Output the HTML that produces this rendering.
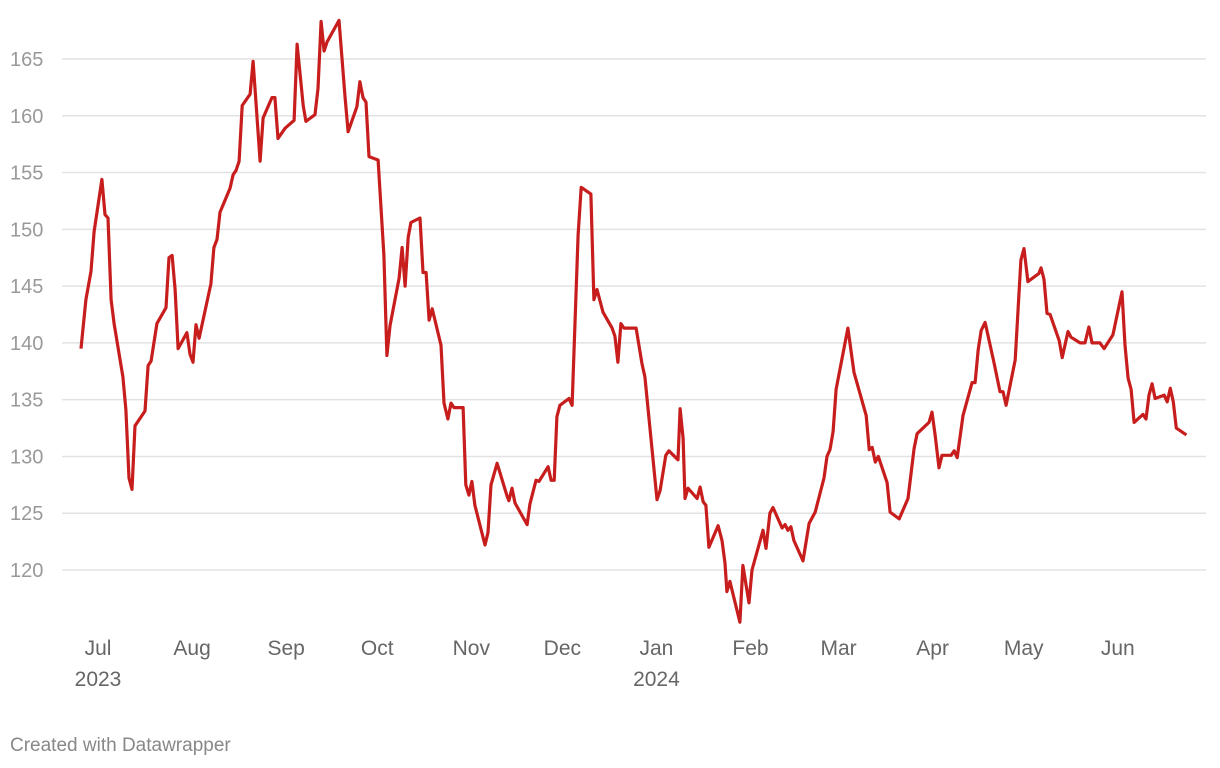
<!DOCTYPE html>
<html><head><meta charset="utf-8"><style>
body{margin:0;background:#fff;font-family:"Liberation Sans",Roboto,sans-serif}
svg{display:block}
</style></head><body>
<svg width="1220" height="768" id="chart">
<g id="grid"></g>
<g id="ylab"></g>
<g id="xlab"></g>
<path id="line" fill="none" stroke="#c71e1d" stroke-width="3.2" stroke-linejoin="round"/>
<text x="10" y="751" font-size="19" fill="#888">Created with Datawrapper</text>
</svg>
<script>
const days=[-5.6,-4,-2.3,-1.3,1.3,2.3,3.3,4.3,5.3,8.2,9.2,10.2,11.2,12.2,15.5,16.5,17.5,19.4,22.4,23.4,24.4,25.4,26.4,29.3,30.3,31.3,32.3,33.3,37.2,38.2,39.2,40.2,43.5,44.5,45.5,46.5,47.5,50.1,51.1,53.4,54.4,57.3,58.3,59.3,61.6,64.6,65.6,67.6,68.5,71.5,72.5,73.5,74.5,75.5,79.4,81.4,82.4,85.3,86.3,87.3,88.3,89.3,92.3,94.2,95.2,96.2,99.2,100.2,101.2,102.2,103.1,106.1,107.1,108.1,109.1,110.1,113,114,115.3,116.3,117.3,120.3,121.2,122.2,123.2,124.2,127.5,128.5,129.5,131.5,134.8,135.4,136.4,137.4,141.4,142.3,144.3,145.3,148.3,149.3,150.3,151.2,152.2,155.2,156.2,158.2,159.2,162.4,163.4,164.4,166.4,169.4,170.3,171.3,172.3,173.3,177.3,179.2,180.2,184.2,185.2,187.1,188.1,191.1,191.8,192.8,193.4,194.4,197.4,198.4,199.4,200.3,201.3,204.3,205.6,206.6,207.2,208.2,211.5,212.5,214.5,215.5,219.1,220.1,221.4,222.4,225.4,226.4,227.3,228.3,229.3,232.3,234.3,236.3,239.2,240.2,241.2,242.2,243.2,247.1,249.1,253.1,254.1,255.1,256.1,257.1,260,261,264,266.9,268.9,269.9,273.8,274.8,275.8,277.1,278.1,281.1,282.1,283.1,285,288,289,290,291,292.3,295.2,297.2,298.2,299.2,302.2,304.1,305.1,306.4,310,310.7,311.7,312.7,313.7,316.7,317.7,319.6,320.6,323.6,325.2,326.5,327.5,330.1,331.5,334.4,337.4,338.4,339.4,340.4,341.4,344.3,345.3,346.3,347.3,348.3,350.3,351.3,352.3,353.3,354.3,355.3,358.6];
const values=[139.5,143.8,146.3,149.8,154.4,151.3,151.0,143.8,141.7,137.0,134.1,128.1,127.1,132.7,134.0,138.0,138.4,141.7,143.1,147.5,147.7,144.7,139.5,140.9,139.0,138.3,141.6,140.4,145.2,148.4,149.1,151.5,153.6,154.8,155.2,156.0,160.9,161.9,164.8,156.0,159.8,161.6,161.6,158.0,158.9,159.6,166.3,160.9,159.5,160.1,162.4,168.3,165.7,166.5,168.4,161.7,158.6,160.8,163.0,161.6,161.2,156.4,156.1,147.7,138.9,141.5,145.7,148.4,145.0,149.3,150.6,151.0,146.2,146.2,142.0,143.0,139.8,134.7,133.3,134.7,134.3,134.3,127.5,126.6,127.8,125.7,122.2,123.3,127.5,129.4,126.5,126.1,127.2,125.9,124.0,125.8,127.9,127.8,129.1,127.9,127.9,133.5,134.5,135.1,134.5,149.5,153.7,153.1,143.8,144.7,142.7,141.3,140.6,138.3,141.7,141.3,141.3,138.2,137.0,126.2,127.0,130.1,130.5,129.7,134.2,131.6,126.3,127.2,126.3,127.3,126.0,125.7,122.0,123.9,122.6,120.6,118.1,119.0,115.4,120.4,117.1,120.0,123.5,121.9,125.0,125.5,123.7,124.0,123.5,123.8,122.6,120.8,124.1,125.1,128.1,130.0,130.6,132.2,135.9,141.3,137.4,133.6,130.6,130.8,129.5,130.0,127.7,125.1,124.5,126.3,130.7,132.0,133.0,133.9,131.9,129.0,130.1,130.1,130.5,129.9,133.6,136.5,136.5,139.4,141.1,141.8,138.3,135.7,135.7,134.5,138.5,147.3,148.3,145.4,146.1,146.6,145.6,142.6,142.5,140.2,138.7,141.0,140.5,140.0,140.0,141.4,140.0,140.0,139.5,140.7,144.5,139.8,136.9,135.9,133.0,133.7,133.3,135.4,136.4,135.1,135.3,135.4,134.8,136.0,134.8,132.5,131.9];
const yTicks=[120,125,130,135,140,145,150,155,160,165];
const monthLabels=["Jul","Aug","Sep","Oct","Nov","Dec","Jan","Feb","Mar","Apr","May","Jun"];
const monthDays=[0,31,62,92,123,153,184,215,244,275,305,336];
const yearLabels=["2023","","","","","","2024","","","","",""];
const X=d=>98+d*3.035;
const Y=v=>570-(v-120)*11.356;
const NS="http://www.w3.org/2000/svg";
const grid=document.getElementById('grid'),ylab=document.getElementById('ylab'),xlab=document.getElementById('xlab');
yTicks.forEach(t=>{
 const l=document.createElementNS(NS,'line');
 
 
 l.setAttribute('x1',62);l.setAttribute('x2',1206);l.setAttribute('y1',Y(t));l.setAttribute('y2',Y(t));
 l.setAttribute('stroke','#e2e2e2');l.setAttribute('stroke-width','1.5');grid.appendChild(l);
 const tx=document.createElementNS(NS,'text');
 
 
 tx.setAttribute('x',10);tx.setAttribute('y',Y(t)+7);tx.setAttribute('font-size','20');tx.setAttribute('fill','#999');
 tx.textContent=t;ylab.appendChild(tx);
});
monthLabels.forEach((m,i)=>{
 const tx=document.createElementNS(NS,'text');
 
 
 tx.setAttribute('x',X(monthDays[i]));tx.setAttribute('y',655);tx.setAttribute('font-size','21');tx.setAttribute('fill','#666');tx.setAttribute('text-anchor','middle');
 tx.textContent=m;xlab.appendChild(tx);
 if(yearLabels[i]){
  const ty=document.createElementNS(NS,'text');
  
  
  ty.setAttribute('x',X(monthDays[i]));ty.setAttribute('y',686);ty.setAttribute('font-size','21');ty.setAttribute('fill','#666');ty.setAttribute('text-anchor','middle');
  ty.textContent=yearLabels[i];xlab.appendChild(ty);
 }
});
document.getElementById('line').setAttribute('d',days.map((d,i)=>(i?'L':'M')+X(d).toFixed(1)+','+Y(values[i]).toFixed(1)).join(''));
</script>
</body></html>
